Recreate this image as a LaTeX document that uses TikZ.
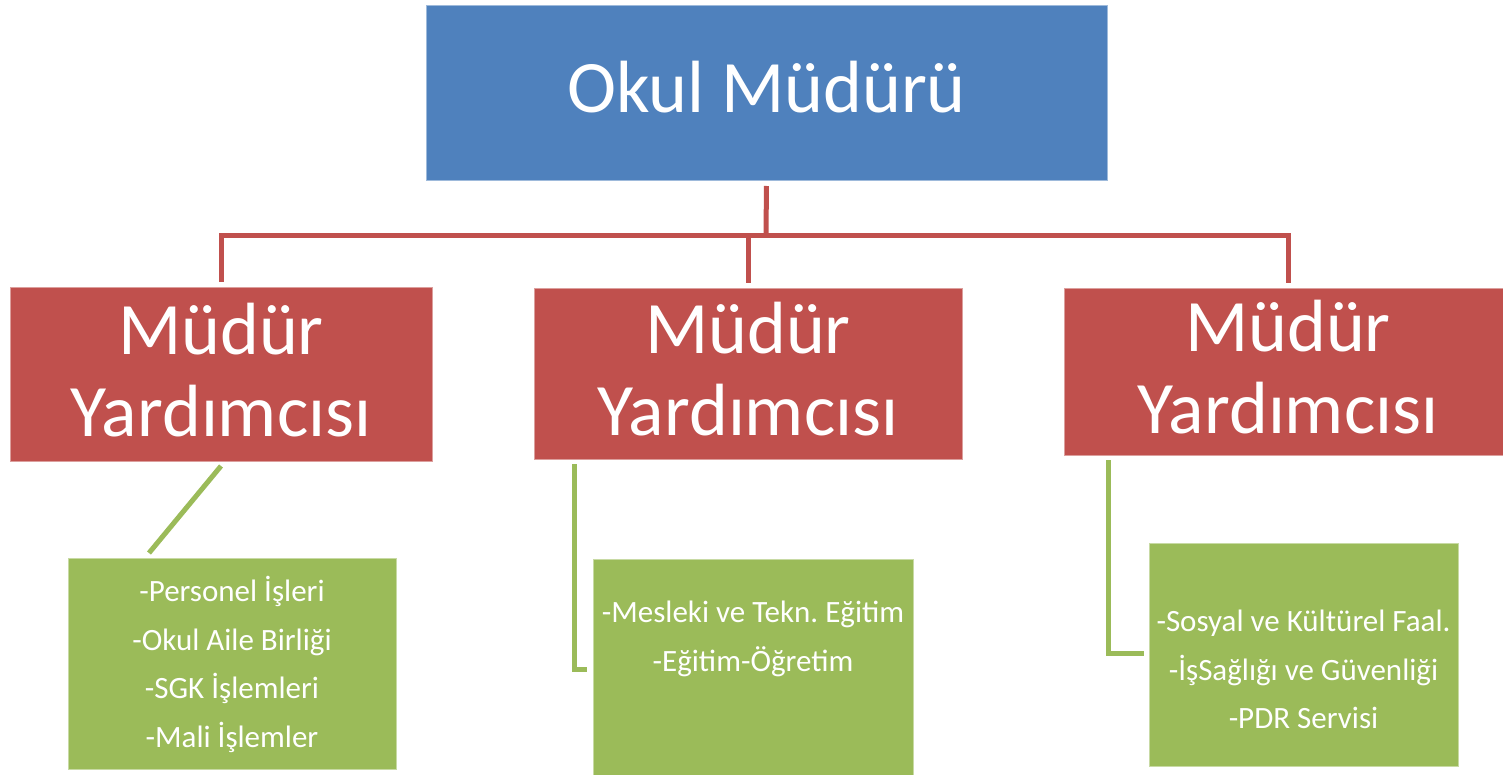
\documentclass[tikz,border=0pt]{standalone}
\usepackage{fontspec}
\setmainfont{Carlito}
\frenchspacing
\usetikzlibrary{calc,positioning}
\definecolor{bossblue}{HTML}{4F81BD}
\definecolor{vicered}{HTML}{C0504D}
\definecolor{dutygreen}{HTML}{9BBB59}

\begin{document}
\begin{tikzpicture}[x=1pt, y=-1pt,
            box/.style={rectangle, inner sep=0pt, outer sep=0pt, anchor=north west},
            bossbox/.style={box, fill=bossblue, draw=bossblue!55!white, line width=0.8pt},
            vicebox/.style={box, fill=vicered, draw=vicered!55!white, line width=0.8pt},
            dutybox/.style={box, fill=dutygreen, draw=dutygreen!55!white, line width=0.8pt},
            bigtext/.style={text=white, align=center, inner sep=0pt, font=\fontsize{74}{82}\selectfont},
            dutytext/.style={text=white, align=center, inner sep=0pt, font=\fontsize{31}{48.5}\selectfont},
            redline/.style={draw=vicered, line width=5pt},
            greenline/.style={draw=dutygreen, line width=5pt}]
            \useasboundingbox (0,0) rectangle (1503,775);
            \fill[white] (0,0) rectangle (1503,775);

            % boxes
            \node (boss) [bossbox, minimum width=681pt, minimum height=175pt] at (426,5) {};
            \node (vice1) [vicebox, minimum width=422pt, minimum height=174pt] at (10,287) {};
            \node (vice2) [vicebox, minimum width=428pt, minimum height=171pt] at (534,288) {};
            \node (vice3) [vicebox, minimum width=448pt, minimum height=167pt] at (1064,288) {};
            \node (duty1) [dutybox, minimum width=328pt, minimum height=211pt] at (68,558) {};
            \node (duty2) [dutybox, minimum width=320pt, minimum height=230pt] at (593,559) {};
            \node (duty3) [dutybox, minimum width=309pt, minimum height=223pt] at (1149,543) {};

            % texts
            \node (bosstext) [bigtext] at ($(boss.center)+(0,-5)$) {Okul Müdürü};
            \node (vicetext1) [bigtext] at ($(vice1.center)+(0,-4)$) {Müdür\\Yardımcısı};
            \node (vicetext2) [bigtext] at ($(vice2.center)+(0,-4)$) {Müdür\\Yardımcısı};
            \node (vicetext3) [bigtext] at ($(vice3.center)+(0,-4)$) {Müdür\\Yardımcısı};
            \node (dutytext1) [dutytext] at ($(duty1.center)+(0,1)$)
                {-Personel İşleri\\-Okul Aile Birliği\\-SGK İşlemleri\\-Mali İşlemler};
            \node (dutytext2) [dutytext] at ($(duty2.north)+(0,80)$)
                {-Mesleki ve Tekn. Eğitim\\-Eğitim-Öğretim};
            \node (dutytext3) [dutytext] at ($(duty3.center)+(0,15)$)
                {-Sosyal ve Kültürel Faal.\\-İşSağlığı ve Güvenliği\\-PDR Servisi};

            % red tree
            \coordinate (hub) at (766,236);
            \draw [redline, shorten <=6pt] (boss.south) -- (hub);
            \draw [redline, shorten >=5pt] (hub) -| (vice1.north);
            \draw [redline, shorten >=5pt] (hub) -| (vice2.north);
            \draw [redline, shorten >=5pt] (hub) -| (vice3.north);

            % green links
            \draw [greenline] ($(vice1.south)+(0,5)$) -- ($(duty1.north west)+(81,-5)$);
            \draw [greenline] ($(vice2.south west)+(40,5)$) |- ($(duty2.north west)+(-6,110)$);
            \draw [greenline] ($(vice3.south west)+(44,5)$) |- ($(duty3.north west)+(-5,110)$);
        \end{tikzpicture}
\end{document}
